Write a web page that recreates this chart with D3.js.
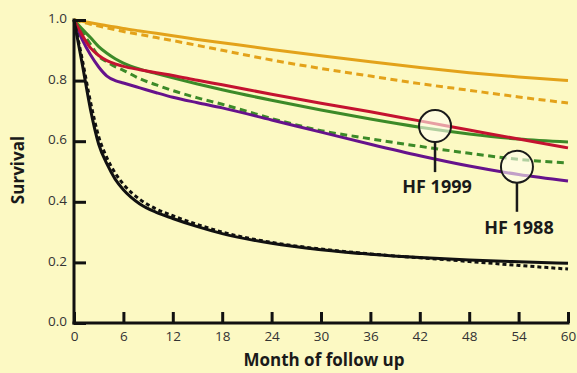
<!DOCTYPE html>
<meta charset="utf-8">
<style>
body { margin: 0; background: #fcf9c3; }
svg { display: block; }
.tick text { font: 13.5px "Open Sans", sans-serif; fill: #333; }
.axis path, .axis line { stroke: #111; stroke-width: 3; }
.label { font: bold 17px "Open Sans", sans-serif; fill: #1a1a1a; }
.note { font: bold 18px "Open Sans", sans-serif; fill: #1a1a1a; text-anchor: middle; }
</style>
<body>
<script src="https://d3js.org/d3.v7.min.js"></script>
<script>

var W = 577, H = 373;
var margin = {top: 20, right: 9, bottom: 50, left: 74};

// data
var months = [0, 1, 2, 3, 4, 5, 6, 8, 10, 12, 15, 18, 24, 30, 36, 42, 48, 54, 60];
var orangeSolid  = [1, .996, .991, .986, .981, .977, .972, .964, .956, .948, .936, .925, .903, .882, .862, .843, .826, .812, .80];
var orangeDashed = [1, .993, .986, .98, .974, .968, .962, .952, .942, .932, .916, .90, .868, .84, .815, .79, .768, .746, .726];
var redSolid     = [1, .95, .908, .883, .866, .855, .847, .836, .826, .817, .801, .786, .755, .725, .697, .667, .637, .607, .578];
var greenSolid   = [1, .97, .942, .912, .89, .872, .858, .838, .823, .809, .789, .77, .735, .703, .673, .646, .624, .607, .597];
var greenDashed  = [1, .96, .92, .88, .862, .846, .834, .806, .786, .767, .743, .722, .675, .635, .608, .583, .56, .54, .528];
var purpleSolid  = [1, .935, .885, .845, .815, .80, .792, .776, .76, .745, .727, .71, .67, .63, .59, .552, .518, .49, .469];
var blackSolid   = [1, .855, .705, .59, .525, .475, .44, .393, .365, .345, .318, .295, .263, .242, .227, .216, .208, .202, .197];
var blackDashed  = [1, .87, .73, .615, .545, .495, .458, .408, .376, .354, .325, .30, .266, .244, .228, .215, .203, .19, .178];

var xTicks = [0, 6, 12, 18, 24, 30, 36, 42, 48, 54, 60];
var yTicks = [0, 0.2, 0.4, 0.6, 0.8, 1.0];

// callouts: circle on a curve, stem down to a label
var noteLabels = ["HF 1999", "HF 1988"];
var noteMonth  = [43.85, 53.8];
var noteValue  = [0.65, 0.516];
var noteStemTo = [0.498, 0.367];
var noteTextAt = [0.429, 0.293];

var series = [
  {v: orangeSolid,  c: "#e3a21a", dash: null},
  {v: orangeDashed, c: "#e3a21a", dash: "7,4.5"},
  {v: greenDashed,  c: "#3c8a28", dash: "7,4.5"},
  {v: purpleSolid,  c: "#66128c", dash: null},
  {v: greenSolid,   c: "#3c8a28", dash: null},
  {v: redSolid,     c: "#c41230", dash: null},
  {v: blackDashed,  c: "#111", dash: "4,3"},
  {v: blackSolid,   c: "#111", dash: null}
];

var x = d3.scaleLinear().domain([0, 60]).range([margin.left, W - margin.right]);
var y = d3.scaleLinear().domain([0, 1]).range([H - margin.bottom, margin.top]);

var svg = d3.select("body").append("svg")
    .attr("width", W)
    .attr("height", H);

svg.append("rect").attr("width", W).attr("height", H).attr("fill", "#fcf9c3");

var line = d3.line()
    .x(function(d, i) { return x(months[i]); })
    .y(function(d) { return y(d); })
    .curve(d3.curveMonotoneX);

svg.selectAll(".curve").data(series).enter()
  .append("path")
    .attr("class", "curve")
    .attr("d", function(d) { return line(d.v); })
    .attr("fill", "none")
    .attr("stroke", function(d) { return d.c; })
    .attr("stroke-width", 3)
    .attr("stroke-dasharray", function(d) { return d.dash; });

// axes
var xAxis = d3.axisBottom(x).tickValues(xTicks).tickSize(-11).tickPadding(15).tickSizeOuter(0);
var yAxis = d3.axisLeft(y).tickValues(yTicks).tickSize(-12).tickPadding(20).tickSizeOuter(0)
    .tickFormat(d3.format(".1f"));

var gx = svg.append("g").attr("class", "axis")
    .attr("transform", "translate(0," + y(0) + ")")
    .call(xAxis);
gx.selectAll(".tick line").attr("stroke-width", 2.5);
gx.selectAll(".tick text").attr("dy", "0.2em");

var gy = svg.append("g").attr("class", "axis")
    .attr("transform", "translate(" + x(0) + ",0)")
    .call(yAxis);
gy.selectAll(".tick line").attr("stroke-width", 2.5);
gy.selectAll(".tick text").attr("x", -7).attr("dy", "0.2em");
gy.select(".domain").attr("d", "M0," + (y(1) - 1.5) + "V" + (y(0) + 1.5));
gx.select(".domain").attr("d", "M" + (x(0) - 1.5) + ",0H" + (x(60) + 1.5));

svg.append("text").attr("class", "label")
    .attr("transform", "translate(24," + 170 + ") rotate(-90)")
    .attr("text-anchor", "middle")
    .text("Survival");

svg.append("text").attr("class", "label")
    .attr("x", 324).attr("y", 366)
    .attr("text-anchor", "middle")
    .text("Month of follow up");

// callouts
noteLabels.forEach(function(lab, i) {
  var cx = x(noteMonth[i]), cy = y(noteValue[i]);
  svg.append("circle")
      .attr("cx", cx).attr("cy", cy).attr("r", 16)
      .attr("fill", "#fffef0").attr("fill-opacity", 0.6)
      .attr("stroke", "#1a1a1a").attr("stroke-width", 2);
  svg.append("line")
      .attr("x1", cx).attr("x2", cx)
      .attr("y1", cy + 16).attr("y2", y(noteStemTo[i]))
      .attr("stroke", "#1a1a1a").attr("stroke-width", 2.5);
  svg.append("text").attr("class", "note")
      .attr("x", cx + 2).attr("y", y(noteTextAt[i]))
      .text(lab);
});

</script>
</body>
